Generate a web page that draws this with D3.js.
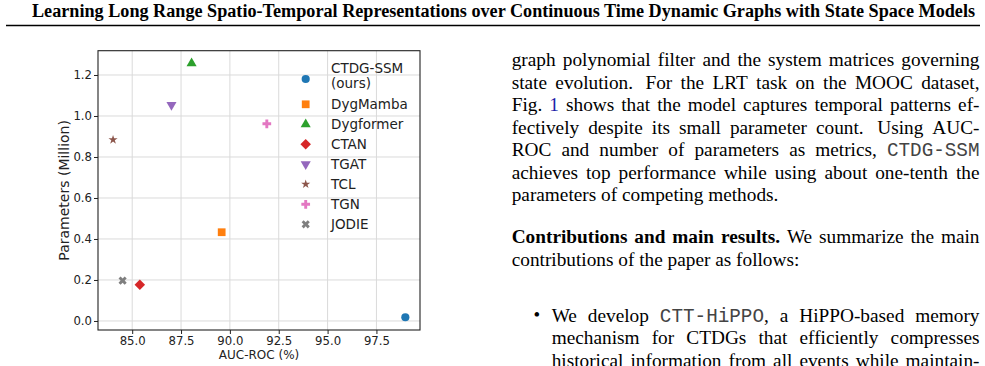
<!DOCTYPE html>
<html>
<head>
<meta charset="utf-8">
<script src="https://cdn.jsdelivr.net/npm/d3@7"></script>
<style>
  body { margin: 0; background: #fff; }
  svg { display: block; }
</style>
</head>
<body>
<div id="canvas"></div>
<script>
// scatter data
var methods = ["CTDG-SSM", "DygMamba", "Dygformer", "CTAN", "TGAT", "TCL", "TGN", "JODIE"];
var legendLines = [["CTDG-SSM", "(ours)"], ["DygMamba"], ["Dygformer"], ["CTAN"], ["TGAT"], ["TCL"], ["TGN"], ["JODIE"]];
var aucRoc = [98.98, 89.58, 88.04, 85.39, 87.01, 84.02, 91.89, 84.51];
var params = [0.018, 0.433, 1.257, 0.177, 1.054, 0.884, 0.962, 0.197];
var markers = ["o", "s", "^", "D", "v", "*", "P", "X"];
var colors = ["#1f77b4", "#ff7f0e", "#2ca02c", "#d62728", "#9467bd", "#8c564b", "#e377c2", "#7f7f7f"];
var xticks = [85.0, 87.5, 90.0, 92.5, 95.0, 97.5];
var yticks = [0.0, 0.2, 0.4, 0.6, 0.8, 1.0, 1.2];

var title = "Learning Long Range Spatio-Temporal Representations over Continuous Time Dynamic Graphs with State Space Models";

// body text, one entry per printed line. **bold**, `mono`, [link]
var paragraph1 = [
  "graph polynomial filter and the system matrices governing",
  "state evolution.  For the LRT task on the MOOC dataset,",
  "Fig. [1] shows that the model captures temporal patterns ef-",
  "fectively despite its small parameter count.  Using AUC-",
  "ROC and number of parameters as metrics, `CTDG-SSM`",
  "achieves top performance while using about one-tenth the",
  "parameters of competing methods."
];
var paragraph2 = [
  "**Contributions** **and** **main** **results.** We summarize the main",
  "contributions of the paper as follows:"
];
var bullet1 = [
  "We develop `CTT-HiPPO`, a HiPPO-based memory",
  "mechanism for CTDGs that efficiently compresses",
  "historical information from all events while maintain-"
];

var W = 985, H = 366;
var margin = { top: 50.7, left: 98 },
  width = 322,
  height = 279.3;

var svg = d3.select("#canvas").append("svg")
  .attr("width", W).attr("height", H);

// page header
svg.append("text")
  .attr("x", 32).attr("y", 16.5)
  .attr("textLength", 943).attr("lengthAdjust", "spacingAndGlyphs")
  .style("font-family", "'Liberation Serif', 'Times New Roman', serif")
  .style("font-weight", "bold").style("font-size", "18.5px")
  .text(title);
svg.append("line")
  .attr("x1", 6).attr("x2", 980).attr("y1", 25.5).attr("y2", 25.5)
  .attr("stroke", "#000").attr("stroke-width", 1.6);

// ---------- scatter chart ----------
var g = svg.append("g")
  .attr("transform", "translate(" + margin.left + "," + margin.top + ")");

var xScale = d3.scaleLinear().domain([83.25, 99.73]).range([0, width]);
var yScale = d3.scaleLinear().domain([-0.044, 1.3185]).range([height, 0]);

// grid
g.selectAll(".gx").data(xticks).enter().append("line")
  .attr("x1", d => xScale(d)).attr("x2", d => xScale(d))
  .attr("y1", 0).attr("y2", height)
  .attr("stroke", "#dadada").attr("stroke-width", 1);
g.selectAll(".gy").data(yticks).enter().append("line")
  .attr("y1", d => yScale(d)).attr("y2", d => yScale(d))
  .attr("x1", 0).attr("x2", width)
  .attr("stroke", "#dadada").attr("stroke-width", 1);

var tickFont = "'DejaVu Sans', sans-serif";

var x_axis = d3.axisBottom(xScale).tickValues(xticks)
  .tickFormat(d3.format(".1f")).tickSize(4).tickPadding(3);
var gx = g.append("g").attr("transform", "translate(0," + height + ")").call(x_axis);

var y_axis = d3.axisLeft(yScale).tickValues(yticks)
  .tickFormat(d3.format(".1f")).tickSize(4).tickPadding(2);
var gy = g.append("g").call(y_axis);

[gx, gy].forEach(function (a) {
  a.select(".domain").remove();
  a.selectAll("line").attr("stroke", "#222").attr("stroke-width", 1);
  a.selectAll("text").style("font-family", tickFont).style("font-size", "11.7px").attr("fill", "#222");
});

// marker shapes like matplotlib
function markerPath(m) {
  var sym = d3.symbol();
  if (m === "o") return { d: sym.type(d3.symbolCircle).size(52)(), r: 0 };
  if (m === "s") return { d: sym.type(d3.symbolSquare).size(60)(), r: 0 };
  if (m === "^") return { d: sym.type(d3.symbolTriangle).size(44)(), r: 0 };
  if (m === "v") return { d: sym.type(d3.symbolTriangle).size(44)(), r: 180 };
  if (m === "D") return { d: sym.type(d3.symbolSquare).size(55)(), r: 45 };
  if (m === "*") return { d: sym.type(d3.symbolStar).size(26)(), r: 0 };
  if (m === "P") return { d: sym.type(d3.symbolCross).size(42)(), r: 0 };
  if (m === "X") return { d: sym.type(d3.symbolCross).size(42)(), r: 45 };
}

var points = methods.map((m, i) => ({ name: m, x: aucRoc[i], y: params[i], mk: markers[i], c: colors[i] }));

g.selectAll(".pt").data(points).enter().append("path")
  .attr("class", "pt")
  .attr("d", d => markerPath(d.mk).d)
  .attr("transform", d => "translate(" + xScale(d.x) + "," + yScale(d.y) + ") rotate(" + markerPath(d.mk).r + ")")
  .attr("fill", d => d.c);

// spines
g.append("rect").attr("x", 0).attr("y", 0).attr("width", width).attr("height", height)
  .attr("fill", "none").attr("stroke", "#222").attr("stroke-width", 1.1);

// axis labels
svg.append("text")
  .attr("x", margin.left + width / 2).attr("y", 359)
  .attr("text-anchor", "middle")
  .style("font-family", tickFont).style("font-size", "12px").attr("fill", "#222")
  .text("AUC-ROC (%)");
svg.append("text")
  .attr("transform", "translate(69," + (margin.top + height / 2) + ") rotate(-90)")
  .attr("text-anchor", "middle")
  .style("font-family", tickFont).style("font-size", "14px").attr("fill", "#222")
  .text("Parameters (Million)");

// legend (no frame)
var legendY = [79, 104.3, 124.4, 144.3, 164.2, 184.2, 204.3, 224.3];
var lg = svg.append("g");
points.forEach(function (d, i) {
  var mp = markerPath(d.mk);
  lg.append("path").attr("d", mp.d)
    .attr("transform", "translate(305.7," + legendY[i] + ") rotate(" + mp.r + ")")
    .attr("fill", d.c);
  var lines = legendLines[i];
  var base = lines.length > 1 ? legendY[i] - 5.7 : legendY[i] + 5;
  lines.forEach(function (t, k) {
    lg.append("text").attr("x", 331).attr("y", base + k * 15)
      .style("font-family", tickFont).style("font-size", "13.5px").attr("fill", "#222")
      .text(t);
  });
});

// ---------- body text ----------
var serif = "'Liberation Serif', 'Times New Roman', serif";
var fs = 19.3;

function addWord(parent, word, x, y) {
  var t = parent.append("text").attr("x", x).attr("y", y)
    .style("font-family", serif).style("font-size", fs + "px").attr("fill", "#000");
  var re = /(\*\*[^*]+\*\*|`[^`]+`|\[[^\]]+\])/g;
  word.split(re).filter(s => s.length).forEach(function (s) {
    var sp = t.append("tspan");
    if (s.startsWith("**")) sp.text(s.slice(2, -2)).style("font-weight", "bold");
    else if (s.startsWith("`")) sp.text(s.slice(1, -1)).style("font-family", "'Liberation Mono', 'Courier New', monospace").attr("fill", "#444");
    else if (s.startsWith("[")) sp.text(s.slice(1, -1)).attr("fill", "#1c1ca8");
    else sp.text(s);
  });
  return t;
}

// justified line; a double space (end of sentence) gets a wider gap
function drawLine(str, x0, x1, y, justify) {
  var parts = str.split(" ");
  var words = [], weights = [];
  parts.forEach(function (p) {
    if (p === "") { if (weights.length) weights[weights.length - 1] = 1.5; }
    else { words.push(p); weights.push(1); }
  });
  weights.pop();
  var nodes = words.map(w => addWord(svg, w, x0, y));
  var widths = nodes.map(n => n.node().getComputedTextLength());
  var total = d3.sum(widths);
  var unit = justify && words.length > 1 ? (x1 - x0 - total) / d3.sum(weights) : fs * 0.25;
  var x = x0;
  nodes.forEach(function (n, i) {
    n.attr("x", x);
    x += widths[i] + (i < weights.length ? unit * weights[i] : 0);
  });
}

var xL = 511.7, xR = 979.5, lead = 22.5;
paragraph1.forEach((s, i) => drawLine(s, xL, xR, 66 + i * lead, i < paragraph1.length - 1));
paragraph2.forEach((s, i) => drawLine(s, xL, xR, 243.3 + i * lead, i < paragraph2.length - 1));
svg.append("text").attr("x", 533.5).attr("y", 321)
  .style("font-family", serif).style("font-size", "19px").text("\u2022");
bullet1.forEach((s, i) => drawLine(s, 551.7, xR, 321.7 + i * lead, true));
</script>
</body>
</html>
